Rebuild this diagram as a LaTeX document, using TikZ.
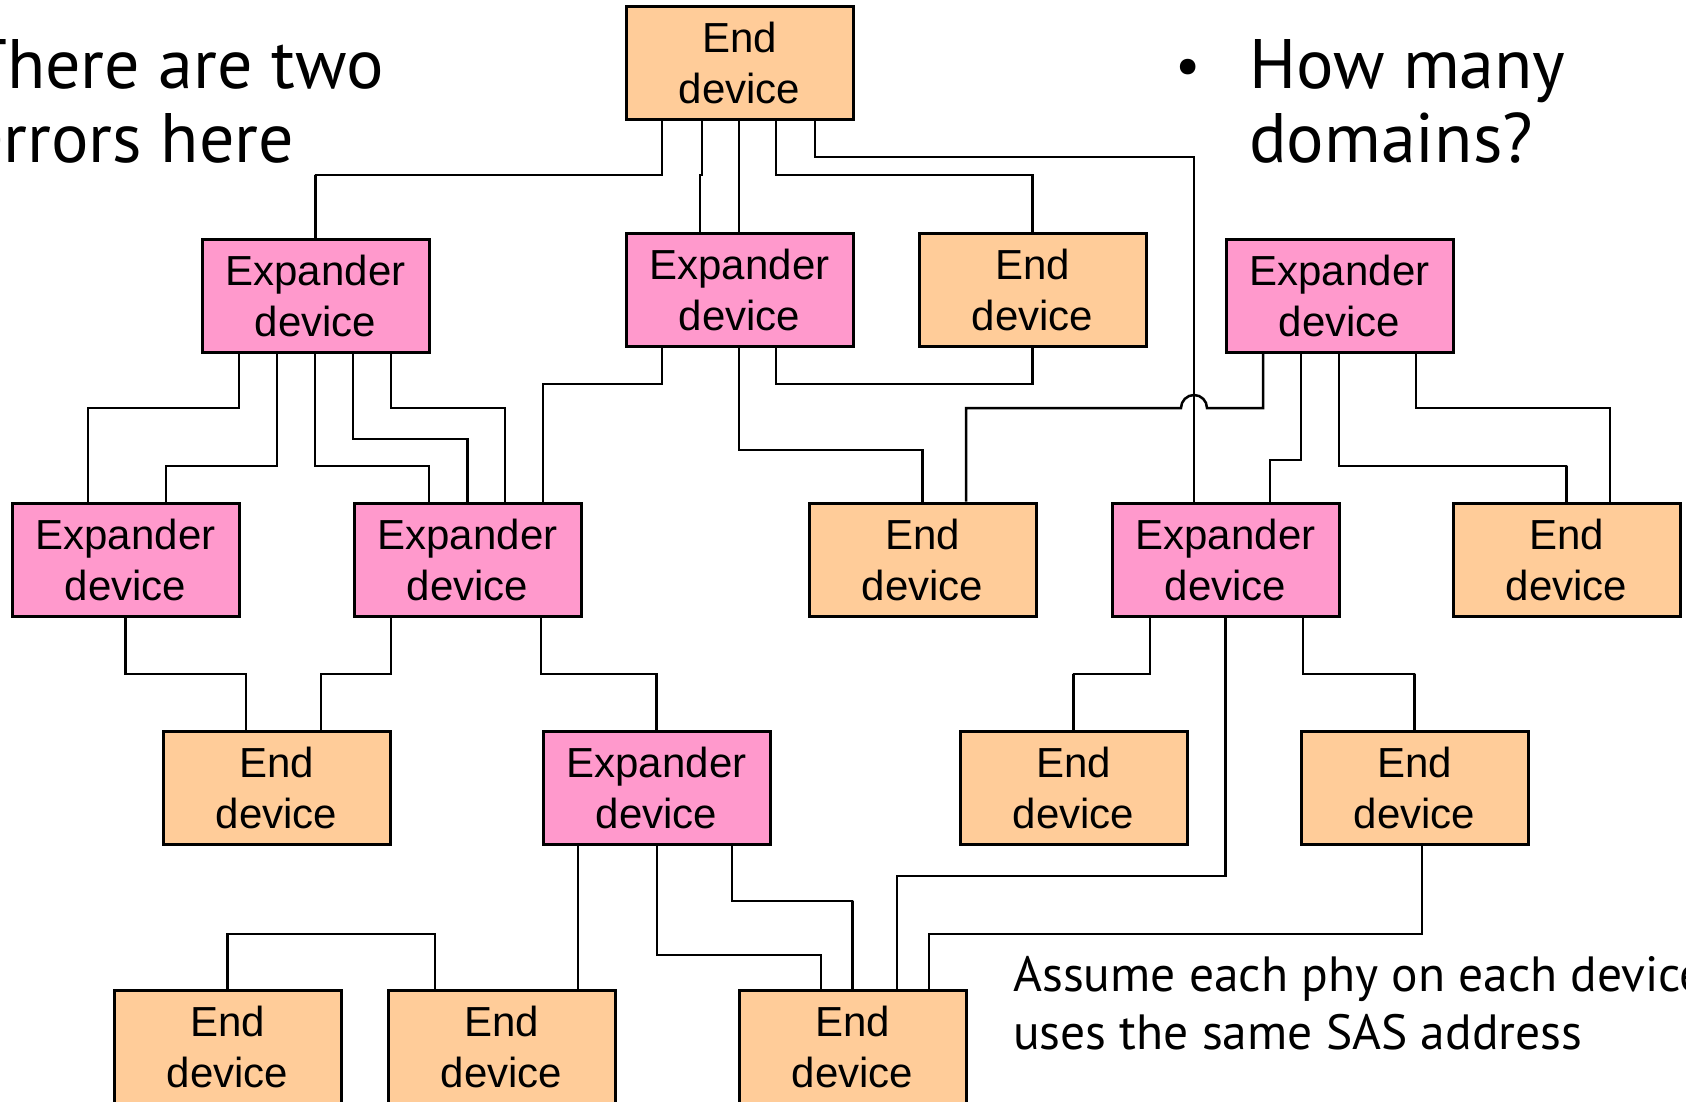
\documentclass[tikz,border=0pt]{standalone}
\usepackage{fontspec}
\setmainfont{Liberation Sans}
\newfontfamily\notefont{PT Sans}
\usepackage{tikz}
\usetikzlibrary{positioning}
\tikzset{
  devnode/.style = {align=center, draw=black, line width=3pt, inner sep=0pt,
  minimum width=227pt, minimum height=113pt, font=\fontsize{42pt}{51pt}\selectfont},
  dev_end/.style = {devnode, fill=end_col},
  dev_exp/.style = {devnode, fill=exp_col},
  link/.style = {draw=black, line width=2.5pt}
}
\definecolor{end_col}{RGB}{255, 204, 153}
\definecolor{exp_col}{RGB}{255, 153, 204}

\begin{document}
\begin{tikzpicture}[x=1pt, y=-1pt,
        note/.style={font=\notefont\fontsize{70pt}{74pt}\selectfont, align=left,
          inner sep=0pt, anchor=base west},
        small_note/.style={note, font=\notefont\fontsize{49.5pt}{58pt}\selectfont}]
  \useasboundingbox (0,0) rectangle (1686,1101);

  % devices, row by row
  \node [dev_end] (e_top) at (739.5,63) {End\\device};

  \node [dev_exp] (x_a) at (315.5,295.5) {Expander\\device};
  \node [dev_exp] (x_b) at (739.5,289.5) {Expander\\device};
  \node [dev_end] (e_c) at (1032.5,289.5) {End\\device};
  \node [dev_exp] (x_d) at (1339.5,295.5) {Expander\\device};

  \node [dev_exp] (x_e) at (125.5,559.5) {Expander\\device};
  \node [dev_exp] (x_f) at (467.5,559.5) {Expander\\device};
  \node [dev_end] (e_g) at (922.5,559.5) {End\\device};
  \node [dev_exp] (x_h) at (1225.5,559.5) {Expander\\device};
  \node [dev_end] (e_i) at (1566.5,559.5) {End\\device};

  \node [dev_end] (e_j) at (276.5,787.5) {End\\device};
  \node [dev_exp] (x_k) at (656.5,787.5) {Expander\\device};
  \node [dev_end] (e_l) at (1073.5,787.5) {End\\device};
  \node [dev_end] (e_m) at (1414.5,787.5) {End\\device};

  \node [dev_end] (e_n) at (227.5,1046.5) {End\\device};
  \node [dev_end] (e_o) at (501.5,1046.5) {End\\device};
  \node [dev_end] (e_p) at (852.5,1046.5) {End\\device};

  % links from the top end device
  \draw [link] (e_top.south -| 662,0) |- (315,175) -| (x_a.north);
  \draw [link] (e_top.south -| 702,0) |- (700,175) -- (x_b.north -| 700,0);
  \draw [link] (e_top.south -| 739,0) -- (x_b.north -| 739,0);
  \draw [link] (e_top.south -| 776,0) |- (1032,175) -| (e_c.north);
  \draw [link] (e_top.south -| 815,0) |- (1194,157) -- (x_h.north -| 1194,0);

  % row 2 to row 3
  \draw [link] (x_a.south -| 239,0) |- (88,408) -- (x_e.north -| 88,0);
  \draw [link] (x_a.south -| 277,0) |- (166,466) -- (x_e.north -| 166,0);
  \draw [link] (x_a.south -| 315,0) |- (429,466) -- (x_f.north -| 429,0);
  \draw [link] (x_a.south -| 353,0) |- (467,439) -| (x_f.north);
  \draw [link] (x_a.south -| 391,0) |- (505,408) -- (x_f.north -| 505,0);
  \draw [link] (x_b.south -| 662,0) |- (543,384) -- (x_f.north -| 543,0);
  \draw [link] (x_b.south -| 739,0) |- (922,450) -| (e_g.north);
  \draw [link] (x_b.south -| 776,0) |- (1032,384) -| (e_c.south);
  \draw [link] (x_d.south -| 1263,0) |- (1207,408)
    arc [start angle=0, end angle=180, radius=13pt] -| (e_g.north -| 966,0);
  \draw [link] (x_d.south -| 1301,0) |- (1270,460) -- (x_h.north -| 1270,0);
  \draw [link] (x_d.south -| 1339,0) |- (1567,466) -| (e_i.north);
  \draw [link] (x_d.south -| 1416,0) |- (1610,408) -- (e_i.north -| 1610,0);

  % row 3 to row 4
  \draw [link] (x_e.south) |- (246,674) -- (e_j.north -| 246,0);
  \draw [link] (x_f.south -| 391,0) |- (321,674) -- (e_j.north -| 321,0);
  \draw [link] (x_f.south -| 541,0) |- (656,674) -| (x_k.north);
  \draw [link] (x_h.south -| 1150,0) |- (1073,674) -| (e_l.north);
  \draw [link] (x_h.south -| 1303,0) |- (1415,674) -| (e_m.north);

  % down to the bottom row
  \draw [link] (x_h.south) |- (897,876) -- (e_p.north -| 897,0);
  \draw [link] (e_m.south -| 1422,0) |- (929,934) -- (e_p.north -| 929,0);
  \draw [link] (x_k.south -| 578,0) -- (e_o.north -| 578,0);
  \draw [link] (x_k.south -| 657,0) |- (821,955) -- (e_p.north -| 821,0);
  \draw [link] (x_k.south -| 732,0) |- (853,901) -| (e_p.north);
  \draw [link] (e_n.north) |- (435,934) -- (e_o.north -| 435,0);

  % texts (base is the last line)
  \node [note] (err_txt) at (-32,162) {There are two\\errors here};
  \node [note, anchor=center, font=\notefont\fontsize{56pt}{60pt}\selectfont] (dot) at (1188,72) {\textbullet};
  \node [note] (dom_txt) at (1249,162) {How many\\domains?};
  \node [small_note] (sas_txt) at (1013,1049) {Assume each phy on each device\\uses the same SAS address};
\end{tikzpicture}
\end{document}
